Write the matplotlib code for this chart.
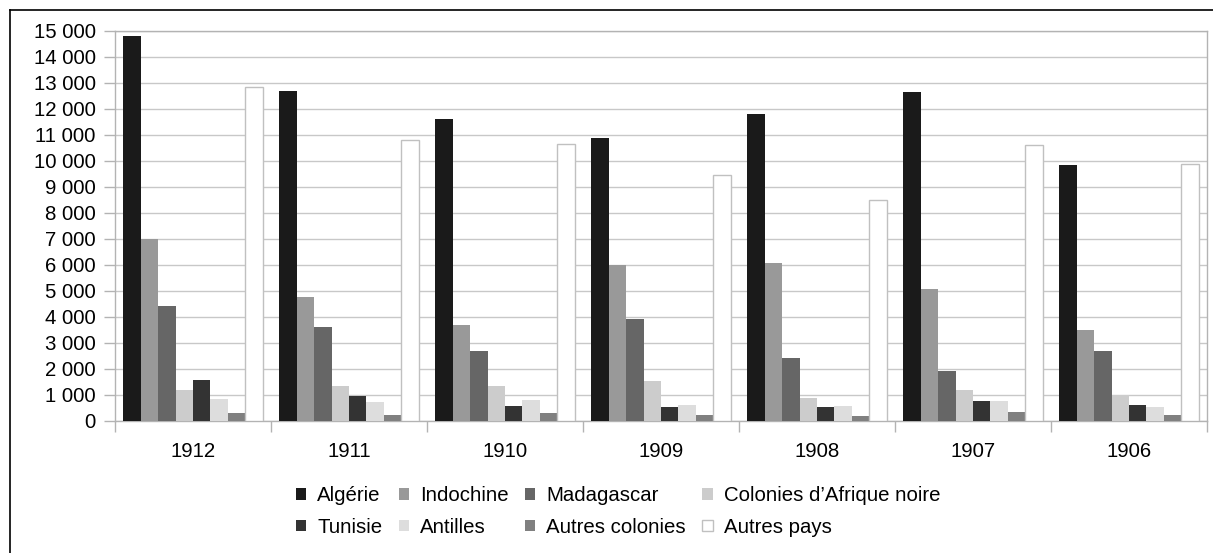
import matplotlib.pyplot as plt
from matplotlib.lines import Line2D
from matplotlib.ticker import FuncFormatter
import numpy as np

plt.rcParams['font.family'] = ['Liberation Sans', 'DejaVu Sans']

# Données
annees = ['1912', '1911', '1910', '1909', '1908', '1907', '1906']
series = ['Algérie', 'Indochine', 'Madagascar', "Colonies d’Afrique noire",
          'Tunisie', 'Antilles', 'Autres colonies', 'Autres pays']

algerie = [14800, 12690, 11630, 10900, 11800, 12650, 9860]
indochine = [7000, 4760, 3680, 6010, 6080, 5080, 3490]
madagascar = [4420, 3600, 2680, 3940, 2440, 1920, 2680]
afrique_noire = [1200, 1350, 1350, 1550, 880, 1190, 990]
tunisie = [1580, 970, 590, 530, 540, 760, 630]
antilles = [850, 730, 800, 600, 590, 760, 540]
autres_colonies = [310, 240, 290, 220, 180, 350, 240]
autres_pays = [12860, 10810, 10640, 9470, 8510, 10600, 9880]

valeurs = [algerie, indochine, madagascar, afrique_noire,
           tunisie, antilles, autres_colonies, autres_pays]
couleurs = ['#1a1a1a', '#999999', '#666666', '#cccccc',
            '#333333', '#dddddd', '#808080', '#ffffff']

fig = plt.figure(figsize=(12.13, 5.53), dpi=100)
ax = fig.add_axes([115 / 1213, 1 - 421 / 553, 1092 / 1213, 390 / 553])

x = np.arange(len(annees))
largeur = 0.893 / len(series)
barres = []
for j, (nom, vals, c) in enumerate(zip(series, valeurs, couleurs)):
    pos = x - 0.4465 + (j + 0.5) * largeur
    if c == '#ffffff':
        b = ax.bar(pos, vals, largeur, color=c, edgecolor='#c0c0c0', linewidth=1, label=nom, zorder=3)
    else:
        b = ax.bar(pos, vals, largeur, color=c, linewidth=0, label=nom, zorder=3)
    barres.append(b)

ax.set_xlim(-0.5, len(annees) - 0.5)
ax.set_ylim(0, 15000)
ax.set_yticks(range(0, 15001, 1000))
ax.yaxis.set_major_formatter(FuncFormatter(lambda v, p: f"{int(v):,}".replace(",", " ")))

# graduations entre les années, étiquettes au centre
ax.set_xticks(np.arange(-0.5, len(annees)), labels=[''] * (len(annees) + 1))
ax.set_xticks(x, labels=annees, minor=True)
ax.tick_params(axis='x', which='major', length=8, color='#b3b3b3', width=1)
ax.tick_params(axis='x', which='minor', length=0, pad=15, labelsize=14.7)
ax.tick_params(axis='y', length=8, color='#b3b3b3', width=1, pad=6, labelsize=14.7)

ax.grid(axis='y', color='#c8c8c8', linewidth=1, zorder=0)
for s in ax.spines.values():
    s.set_color('#b3b3b3')
    s.set_linewidth(1)

# légende (ordre par lignes)
ordre = [0, 4, 1, 5, 2, 6, 3, 7]
fig.legend([barres[i] for i in ordre], [series[i] for i in ordre],
           loc='center', bbox_to_anchor=(618 / 1213, 1 - 511.5 / 553), ncol=4,
           frameon=False, fontsize=14.7, handlelength=0.5, handleheight=0.5,
           handletextpad=0.55, columnspacing=0.8, labelspacing=0.6)

# cadre extérieur
fig.add_artist(Line2D([10 / 1213, 1], [1 - 10 / 553, 1 - 10 / 553], color='black', linewidth=1.2))
fig.add_artist(Line2D([10 / 1213, 10 / 1213], [0, 1 - 10 / 553], color='black', linewidth=1.2))

fig.savefig('out.png', dpi=100)
